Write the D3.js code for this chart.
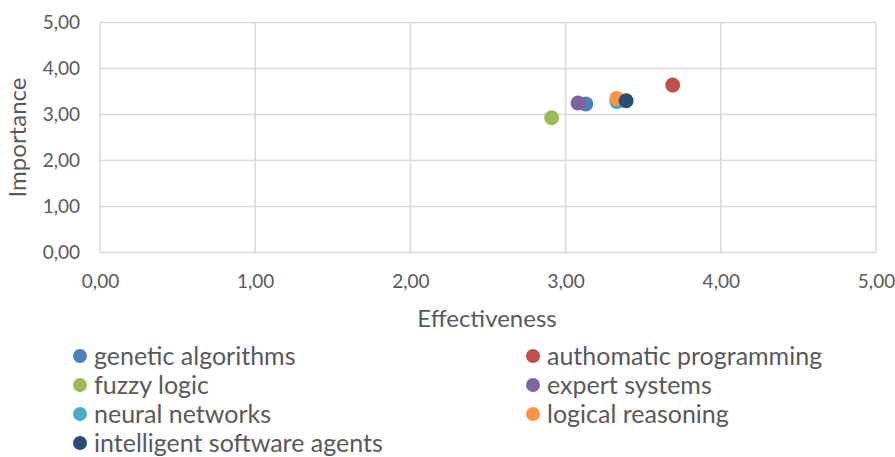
<!DOCTYPE html>
<html>
<head>
<meta charset="utf-8">
<script src="https://cdn.jsdelivr.net/npm/d3@7"></script>
<style>
  html, body { margin: 0; padding: 0; background: #fff; }
  svg { display: block; font-family: Lato, "Open Sans", sans-serif; }
</style>
</head>
<body>
<svg id="chart" width="895" height="457"></svg>
<script>
// Technology ratings: effectiveness vs importance
const techniques = [
  "genetic algorithms",
  "authomatic programming",
  "fuzzy logic",
  "expert systems",
  "neural networks",
  "logical reasoning",
  "intelligent software agents"
];
const effectiveness = [3.13, 3.69, 2.91, 3.08, 3.33, 3.33, 3.39];
const importance    = [3.23, 3.64, 2.93, 3.25, 3.28, 3.35, 3.30];
const colors = ["#4F81BD", "#C0504D", "#9BBB59", "#8064A2", "#4BACC6", "#F79646", "#2C4D75"];
const tickValues = [0, 1, 2, 3, 4, 5];

const svg = d3.select("#chart");
const fmt = v => d3.format(".2f")(v).replace(".", ",");

const x = d3.scaleLinear().domain([0, 5]).range([100, 876]);
const y = d3.scaleLinear().domain([0, 5]).range([252.5, 22.5]);

// gridlines
const grid = svg.append("g");
grid.selectAll("line.h").data(tickValues).join("line")
  .attr("x1", x(0)).attr("x2", x(5))
  .attr("y1", d => y(d)).attr("y2", d => y(d))
  .attr("stroke", "#D9D9D9").attr("stroke-width", 1.5);
grid.selectAll("line.v").data(tickValues).join("line")
  .attr("y1", y(0)).attr("y2", y(5))
  .attr("x1", d => x(d)).attr("x2", d => x(d))
  .attr("stroke", "#D9D9D9").attr("stroke-width", 1.5);

// axes (labels only; lines come from the grid)
const xAxis = svg.append("g")
  .attr("transform", `translate(0,${y(0)})`)
  .call(d3.axisBottom(x).tickValues(tickValues).tickFormat(fmt).tickSize(0).tickPadding(22));
const yAxis = svg.append("g")
  .attr("transform", `translate(${x(0)},0)`)
  .call(d3.axisLeft(y).tickValues(tickValues).tickFormat(fmt).tickSize(0).tickPadding(20));
[xAxis, yAxis].forEach(a => {
  a.select(".domain").remove();
  a.selectAll("text").attr("fill", "#595959").style("font-size", "19px").style("font-family", "Lato, sans-serif");
});

// axis titles
svg.append("text")
  .attr("x", (x(0) + x(5)) / 2 - 1).attr("y", 327)
  .attr("text-anchor", "middle")
  .attr("fill", "#595959").style("font-size", "24px")
  .text("Effectiveness");
svg.append("text")
  .attr("transform", `translate(26,${(y(0) + y(5)) / 2}) rotate(-90)`)
  .attr("text-anchor", "middle")
  .attr("fill", "#595959").style("font-size", "24px")
  .text("Importance");

// points
svg.append("g").selectAll("circle").data(techniques).join("circle")
  .attr("cx", (d, i) => x(effectiveness[i]))
  .attr("cy", (d, i) => y(importance[i]))
  .attr("r", 7.5)
  .attr("fill", (d, i) => colors[i]);

// legend: two columns
const legend = svg.append("g");
const item = legend.selectAll("g").data(techniques).join("g")
  .attr("transform", (d, i) => `translate(${i % 2 === 0 ? 80 : 533},${356 + Math.floor(i / 2) * 29})`);
item.append("circle").attr("r", 7).attr("fill", (d, i) => colors[i]);
item.append("text")
  .attr("x", 14).attr("dy", "0.35em")
  .attr("fill", "#595959").style("font-size", "25px")
  .text(d => d);
</script>
</body>
</html>
